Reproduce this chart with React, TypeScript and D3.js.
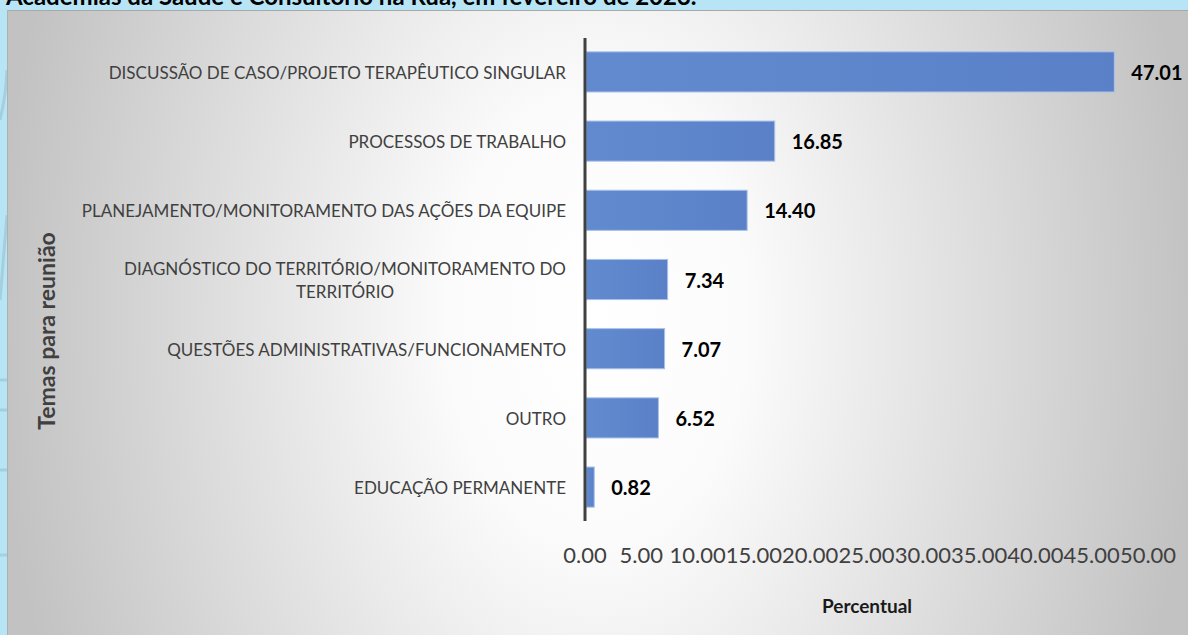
import React from 'react'
import { scaleLinear, scaleBand } from 'd3'

// dados
const categorias = [
  'DISCUSSÃO DE CASO/PROJETO TERAPÊUTICO SINGULAR',
  'PROCESSOS DE TRABALHO',
  'PLANEJAMENTO/MONITORAMENTO DAS AÇÕES DA EQUIPE',
  'DIAGNÓSTICO DO TERRITÓRIO/MONITORAMENTO DO\nTERRITÓRIO',
  'QUESTÕES ADMINISTRATIVAS/FUNCIONAMENTO',
  'OUTRO',
  'EDUCAÇÃO PERMANENTE',
]
const percentuais = [47.01, 16.85, 14.4, 7.34, 7.07, 6.52, 0.82]
const ticks = [0, 5, 10, 15, 20, 25, 30, 35, 40, 45, 50]
const titulo = 'Academias da Saúde e Consultório na Rua, em fevereiro de 2023.'
const tituloY = 'Temas para reunião'
const tituloX = 'Percentual'

const FONT = 'Lato, "Open Sans", sans-serif'

export default function App() {
  const W = 1188
  const H = 635

  const x = scaleLinear().domain([0, 50]).range([585, 1148])
  const y = scaleBand<string>()
    .domain(categorias)
    .range([38, 521])
    .paddingInner(0.42)
    .paddingOuter(0.2)

  return (
    <svg width={W} height={H} style={{ position: 'absolute', left: 0, top: 0 }}>
      <defs>
        <radialGradient id="fundo" gradientUnits="userSpaceOnUse" cx={597} cy={320} r={600}
          gradientTransform="translate(597 320) scale(1 1.5) translate(-597 -320)">
          <stop offset="0" stopColor="#ffffff" />
          <stop offset="0.25" stopColor="#fbfbfb" />
          <stop offset="1" stopColor="#c2c2c2" />
        </radialGradient>
        <linearGradient id="barra" x1="0" x2="1" y1="0" y2="0">
          <stop offset="0" stopColor="#628bcf" />
          <stop offset="1" stopColor="#5a81c8" />
        </linearGradient>
      </defs>

      {/* faixa azul do slide */}
      <rect x={0} y={0} width={W} height={H} fill="#b8e5f6" />
      <g stroke="#9cc7d2" strokeWidth={3} fill="none" opacity={0.7}>
        <path d="M0,120 Q6,95 7,70" />
        <path d="M0,300 Q4,250 7,215" />
        <path d="M0,380 L7,380" />
        <path d="M0,410 L7,410" />
        <path d="M0,470 L7,470" />
        <path d="M0,555 L7,555" />
      </g>
      <text x={6} y={5} fontFamily={FONT} fontWeight="bold" fontSize={24} fill="#000">
        {titulo}
      </text>

      {/* área do gráfico */}
      <rect x={7} y={10} width={W - 7} height={H - 10} fill="url(#fundo)" />
      <line x1={7} x2={W} y1={10.5} y2={10.5} stroke="#a8a8a8" strokeWidth={1} />
      <line x1={7.5} x2={7.5} y1={10} y2={H} stroke="#b0b0b0" strokeWidth={1} />

      {/* barras */}
      {categorias.map((c, i) => (
        <rect key={c} x={x(0) + 1} y={y(c)} width={x(percentuais[i]) - x(0) - 1}
          height={y.bandwidth()} fill="url(#barra)" stroke="#a9c1ea" strokeWidth={1} />
      ))}

      {/* eixo vertical */}
      <line x1={x(0)} x2={x(0)} y1={38} y2={521} stroke="#404040" strokeWidth={3} />

      {/* rótulos das categorias */}
      {categorias.map(c => {
        const linhas = c.split('\n')
        const cy = (y(c) as number) + y.bandwidth() / 2
        const lh = 23
        const y0 = cy - ((linhas.length - 1) * lh) / 2
        return (
          <text key={c} fontFamily={FONT} fontSize={17} fill="#404040"
            textAnchor={linhas.length > 1 ? 'middle' : 'end'} dominantBaseline="central">
            {linhas.map((l, j) => (
              <tspan key={j} x={linhas.length > 1 ? 345 : 566} y={y0 + j * lh}>{l}</tspan>
            ))}
          </text>
        )
      })}

      {/* valores */}
      {categorias.map((c, i) => (
        <text key={c} x={x(percentuais[i]) + 17} y={(y(c) as number) + y.bandwidth() / 2}
          fontFamily={FONT} fontWeight="bold" fontSize={20} fill="#000" dominantBaseline="central">
          {percentuais[i].toFixed(2)}
        </text>
      ))}

      {/* ticks do eixo x */}
      {ticks.map(t => (
        <text key={t} x={x(t)} y={554} textAnchor="middle" dominantBaseline="central"
          fontFamily={FONT} fontSize={22} fill="#404040">
          {t.toFixed(2)}
        </text>
      ))}

      {/* títulos dos eixos */}
      <text x={867} y={605} textAnchor="middle" dominantBaseline="central"
        fontFamily={FONT} fontWeight="bold" fontSize={19} fill="#1a1a1a">
        {tituloX}
      </text>
      <text transform="translate(46,331) rotate(-90)" textAnchor="middle" dominantBaseline="central"
        fontFamily={FONT} fontWeight="bold" fontSize={23} fill="#404040">
        {tituloY}
      </text>
    </svg>
  )
}
